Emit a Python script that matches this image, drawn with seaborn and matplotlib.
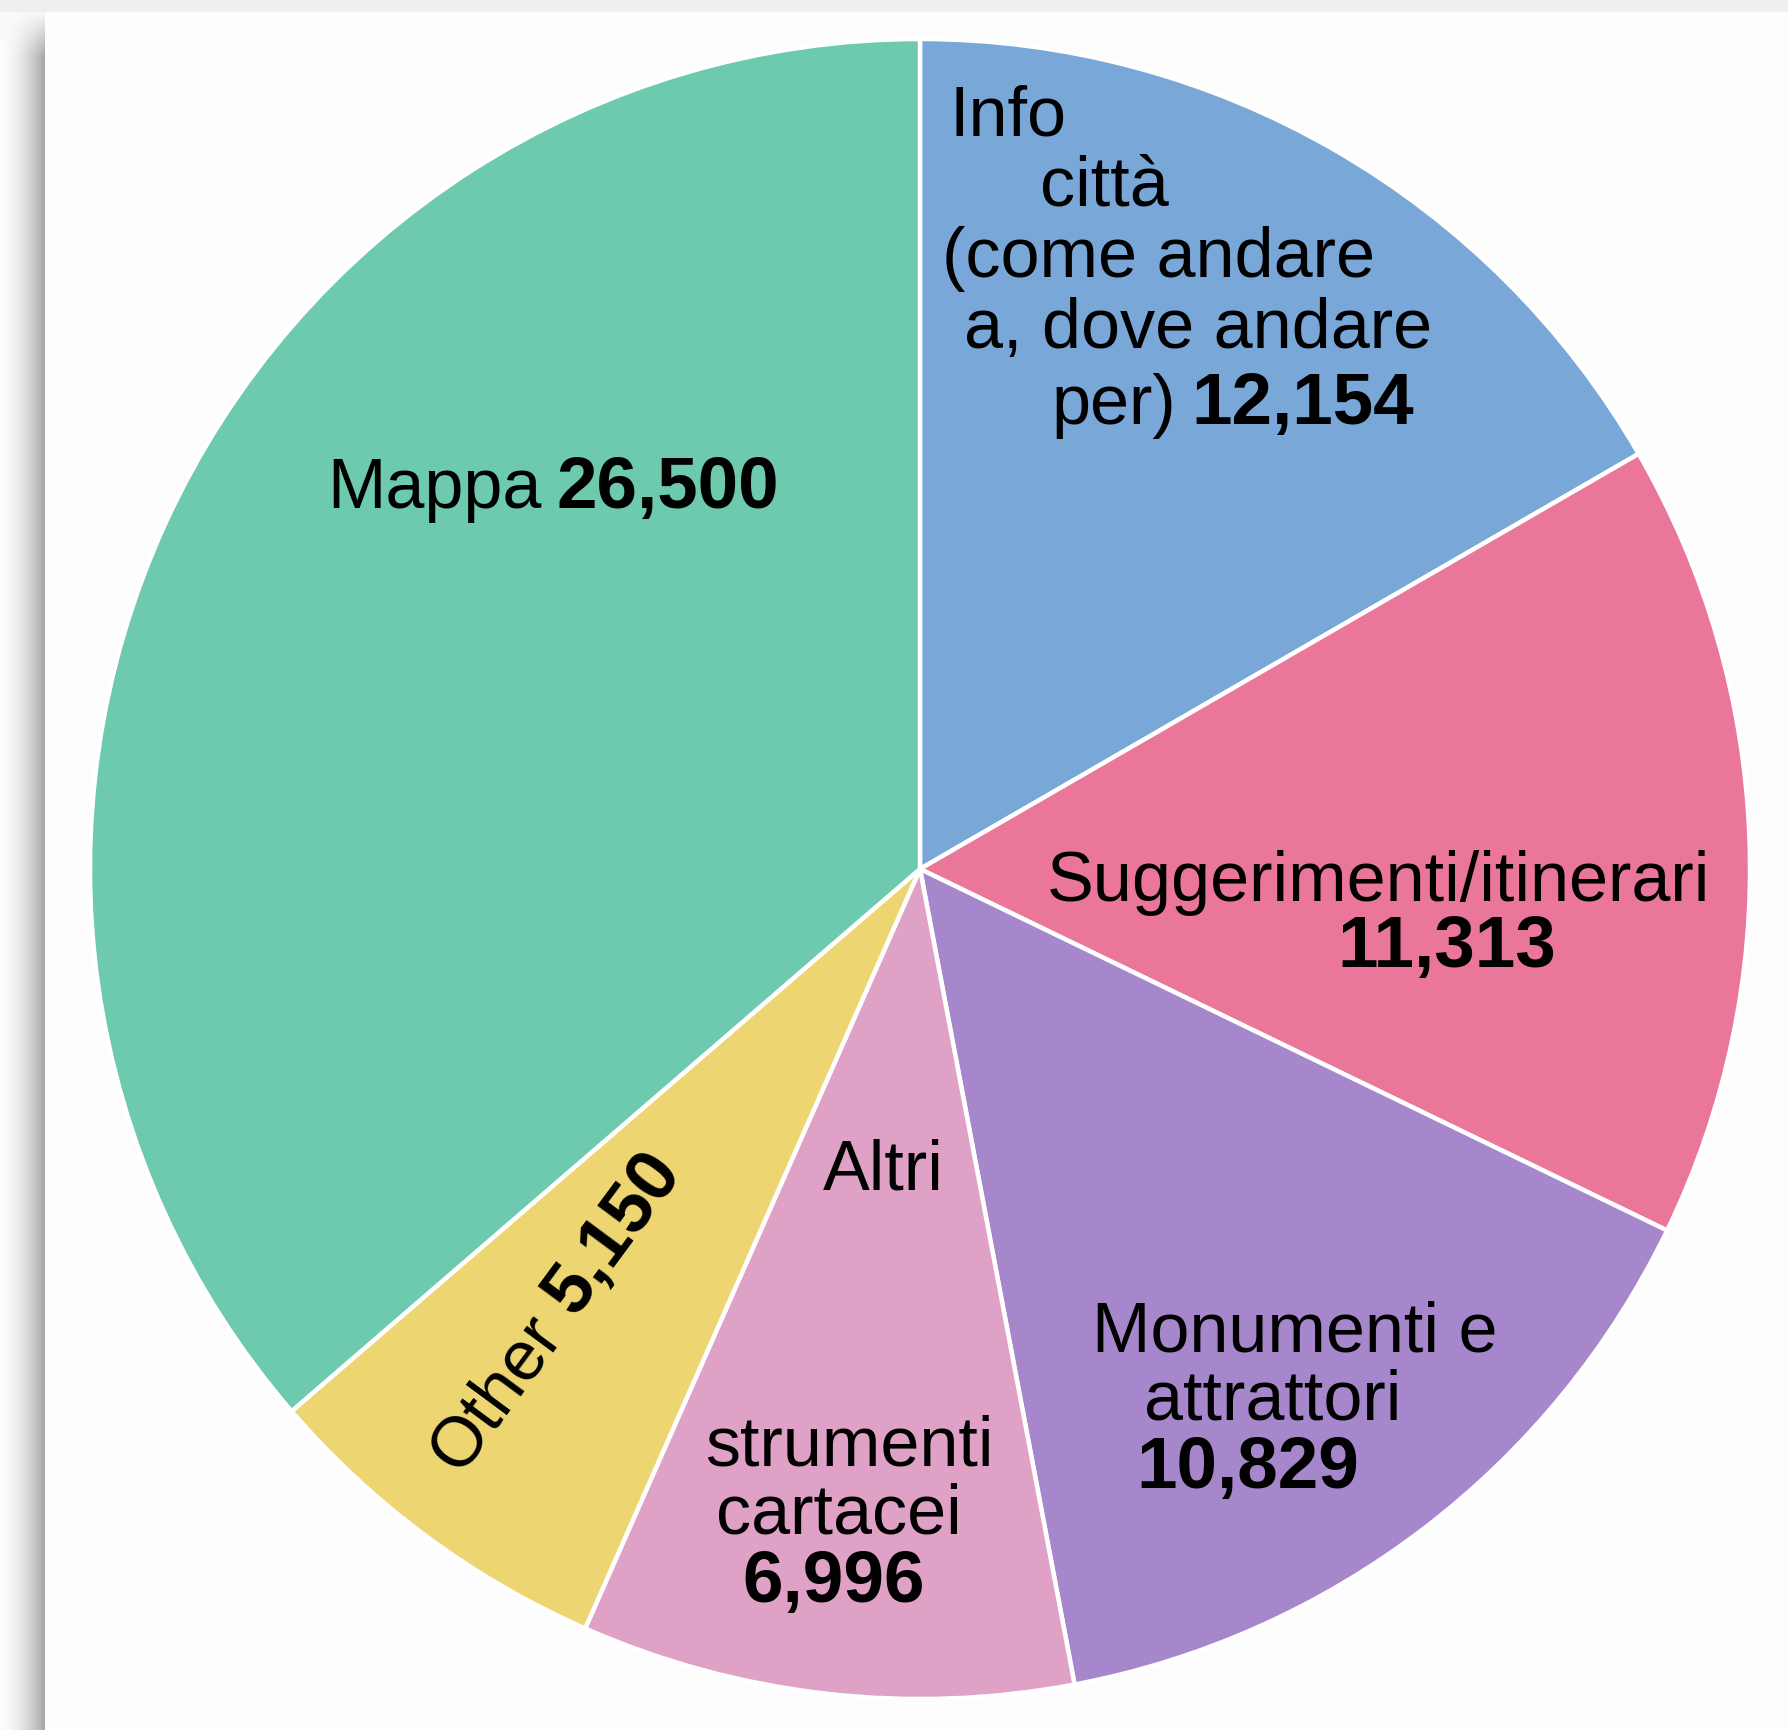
import numpy as np
import matplotlib
matplotlib.use("Agg")
import matplotlib.pyplot as plt
import seaborn as sns

# ---- data ----
categories = ["Info città (come andare a, dove andare per)", "Suggerimenti/itinerari",
              "Monumenti e attrattori", "Altri strumenti cartacei", "Other", "Mappa"]
values = [12154, 11313, 10829, 6996, 5150, 26500]
colors = ["#79a7d7", "#ea7799", "#a687cb", "#dfa1c5", "#edd571", "#6dcaaf"]

sns.set_theme(style="white")
plt.rcParams["font.family"] = ["Liberation Sans", "DejaVu Sans"]

W, H = 1788, 1731
DPI = 100
fig = plt.figure(figsize=(W / DPI, H / DPI), dpi=DPI)
fig.patch.set_facecolor("#fdfdfd")

# ---- screenshot frame / shadow background ----
bg = fig.add_axes([0, 0, 1, 1], zorder=-10)
SW = 45
img = np.full((H, W), 253.0)
xs = np.arange(SW)
left = 252 - 85 * (xs / (SW - 1.0)) ** 1.8
fade = np.clip((np.arange(H) - 12) / 45.0, 0, 1)[:, None]
img[:, :SW] = 250 - (250 - left[None, :]) * fade
img[:13, :] = np.minimum(img[:13, :], 239)
bg.imshow(np.repeat(img[:, :, None] / 255.0, 3, axis=2), aspect="auto",
          extent=(0, W, H, 0), interpolation="bilinear")
bg.set_xlim(0, W)
bg.set_ylim(H, 0)
bg.axis("off")

# ---- pie ----
cx, cy, R = 920, 870, 830
ax = fig.add_axes([(cx - R) / W, (H - cy - R) / H, 2 * R / W, 2 * R / H])
ax.pie(values, colors=colors, startangle=90, counterclock=False,
       wedgeprops=dict(edgecolor="white", linewidth=3.2))
ax.set_xlim(-1, 1)
ax.set_ylim(-1, 1)
ax.axis("off")

FS = 50.5
FSB = 52.5
fmt = [f"{v:,}" for v in values]


def put(x, y, normal, bold=None, **kw):
    """Place text at pixel position (x from left, y baseline from top)."""
    fx, fy = x / W, 1 - y / H
    if normal:
        t = fig.text(fx, fy, normal, fontsize=FS, color="black", ha="left",
                     va="baseline", **kw)
        if bold:
            ax.annotate(bold, xy=(1, 0), xycoords=t, xytext=(11, 0),
                        textcoords="offset points", fontsize=FSB,
                        fontweight="bold", color="black", ha="left",
                        va="bottom")
    else:
        fig.text(fx, fy, bold, fontsize=FSB, fontweight="bold", color="black",
                 ha="left", va="baseline")


# Info città
put(950, 135, "Info")
put(1040, 205, "città")
put(942, 277, "(come andare")
put(964, 348, "a, dove andare")
put(1051, 424, "per)", fmt[0])
# Suggerimenti
put(1047, 901, "Suggerimenti/itinerari")
put(1337, 967, None, fmt[1])
# Monumenti
put(1092, 1351, "Monumenti e")
put(1144, 1420, "attrattori")
put(1136, 1488, None, fmt[2])
# Altri strumenti cartacei
put(823, 1189, "Altri")
put(705, 1465, "strumenti")
put(716, 1534, "cartacei")
put(742, 1602, None, fmt[3])
# Mappa
put(327, 508, "Mappa", fmt[5])

# Other (rotated along the wedge's mid direction)
total = float(sum(values))
start = sum(values[:4]) / total * 360
mid = start + values[4] / total * 360 / 2
rot = (90 - mid) + 180
th = np.deg2rad(rot)
d = np.array([np.cos(th), -np.sin(th)])       # baseline direction (pixel, y down)
up = np.array([-np.sin(th), -np.cos(th)])     # text up direction (pixel, y down)
center = np.array([549.0, 1311.0])
base_c = center - 25 * up
p1 = base_c - 10 * d
p2 = base_c + 10 * d
fig.text(p1[0] / W, 1 - p1[1] / H, categories[4], fontsize=FS, color="black",
         ha="right", va="baseline", rotation=rot, rotation_mode="anchor")
fig.text(p2[0] / W, 1 - p2[1] / H, fmt[4], fontsize=FSB, fontweight="bold",
         color="black", ha="left", va="baseline", rotation=rot,
         rotation_mode="anchor")

fig.savefig("out.png", dpi=DPI, facecolor=fig.get_facecolor())
